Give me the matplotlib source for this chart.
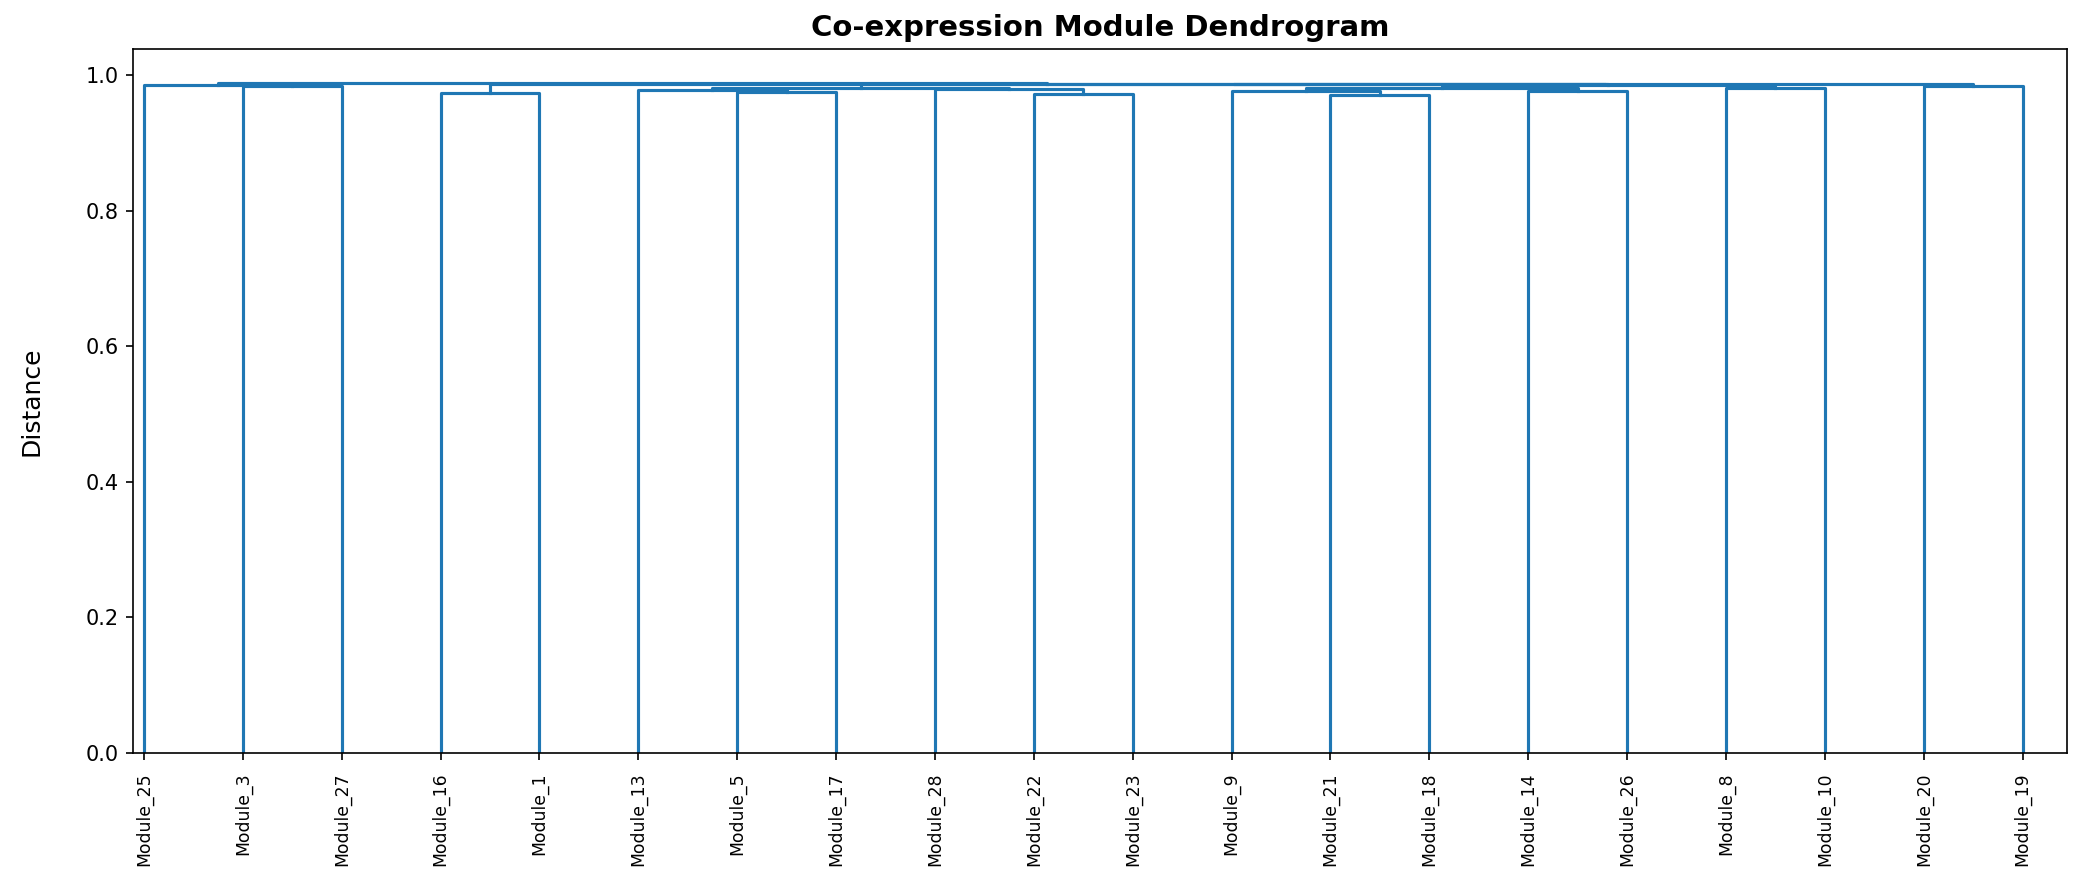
import matplotlib
matplotlib.use("Agg")
import matplotlib.pyplot as plt

# Leaf order as drawn (left to right)
leaf_labels = ['Module_25', 'Module_3', 'Module_27', 'Module_16', 'Module_1',
               'Module_13', 'Module_5', 'Module_17', 'Module_28', 'Module_22',
               'Module_23', 'Module_9', 'Module_21', 'Module_18', 'Module_14',
               'Module_26', 'Module_8', 'Module_10', 'Module_20', 'Module_19']

# Linkage (scipy style): leaves are 0..19, new clusters numbered 20, 21, ...
merge_left = [1, 0, 3, 6, 5, 9, 8, 24, 12, 11, 14, 29, 16, 31, 27, 18, 34, 22, 21]
merge_right = [2, 20, 4, 7, 23, 10, 25, 26, 13, 28, 15, 30, 17, 32, 33, 19, 35, 36, 37]
merge_height = [0.984, 0.9855, 0.974, 0.975, 0.978, 0.972, 0.980, 0.9815, 0.971,
                0.977, 0.977, 0.982, 0.981, 0.9865, 0.987, 0.985, 0.9875, 0.988,
                0.9893]

n = len(leaf_labels)
color = '#1f77b4'

fig = plt.figure(figsize=(2082 / 150, 884 / 150), dpi=150)
ax = fig.add_axes([133 / 2082, 1 - 753 / 884, (2067 - 133) / 2082, (753 - 49) / 884])

pos = {i: 5 + 10 * i for i in range(n)}
hgt = {i: 0.0 for i in range(n)}
for k, (l, r, h) in enumerate(zip(merge_left, merge_right, merge_height)):
    node = n + k
    xl, xr = pos[l], pos[r]
    ax.plot([xl, xl, xr, xr], [hgt[l], h, h, hgt[r]], color=color, lw=1.5)
    pos[node] = (xl + xr) / 2
    hgt[node] = h

ax.set_xlim(3.9, 199.5)
ax.set_ylim(0, 1.039)
ax.set_xticks([5 + 10 * i for i in range(n)])
ax.set_xticklabels(leaf_labels, rotation=90, fontsize=8.3)
ax.tick_params(axis='x', pad=6)
ax.set_yticks([0.0, 0.2, 0.4, 0.6, 0.8, 1.0])
ax.tick_params(axis='y', labelsize=10)
ax.set_ylabel('Distance', fontsize=12, labelpad=20)
ax.set_title('Co-expression Module Dendrogram', fontsize=14, fontweight='bold')

fig.savefig('out.png', dpi=150)
